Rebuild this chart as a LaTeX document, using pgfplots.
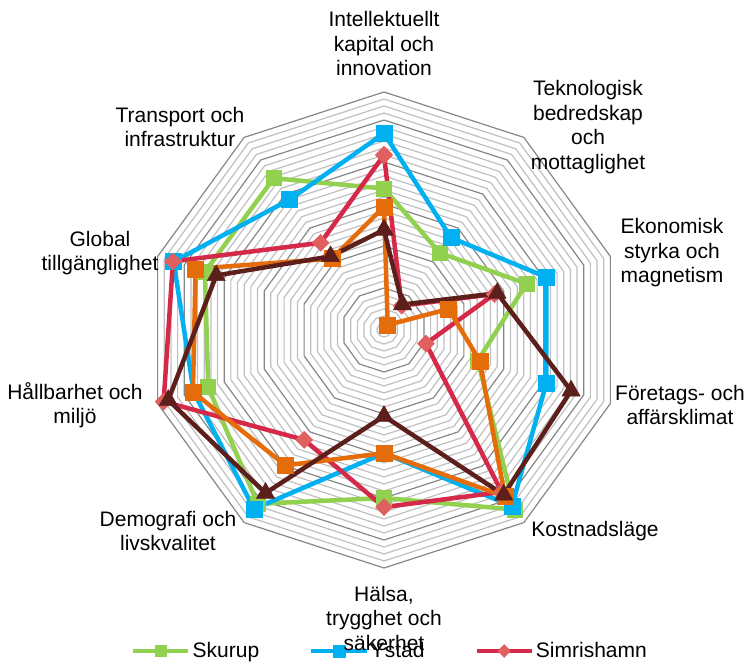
\documentclass[border=0pt]{standalone}
\usepackage{pgfplots}
\pgfplotsset{compat=1.18}
\usepgfplotslibrary{polar}
\usepackage{fontspec}
\setmainfont{Liberation Sans}
\definecolor{cSk}{HTML}{92D050}
\definecolor{cYs}{HTML}{00B0F0}
\definecolor{cSiL}{HTML}{D5294A}
\definecolor{cSiM}{HTML}{E0605F}
\definecolor{cOr}{HTML}{E46C0A}
\definecolor{cBr}{HTML}{5C1F1C}
\definecolor{gMin}{HTML}{BFBFBF}
\definecolor{gMaj}{HTML}{868686}
\newcommand\lbl{\fontsize{21bp}{24.5bp}\selectfont}
\begin{document}
\begin{tikzpicture}[x=1bp,y=1bp]
\useasboundingbox (0,0) rectangle (755,662);
\begin{polaraxis}[
  at={(384bp,332bp)}, anchor=center,
  scale only axis, width=476bp, height=476bp,
  hide axis, xmin=0, xmax=360, ymin=0, ymax=34,
  clip=false,
  legend style={draw=none, fill=none, legend columns=3,
    at={(-0.0315,-0.1744)}, anchor=west, inner sep=0pt,
    font=\lbl, nodes={inner sep=2bp},
    /tikz/every even column/.append style={column sep=48bp}},
  legend image code/.code={\draw[mark repeat=2,mark phase=2,#1,every mark/.append style={scale=0.75}] plot coordinates {(0bp,0bp) (27.5bp,0bp) (55bp,0bp)};},
]
% grid rings
\pgfplotsinvokeforeach{1,2,3,4,5,7,8,9,10,11,13,14,15,16,17,19,20,21,22,23,25,26,27,28,29,31,32,33}{
\addplot[gMin, line width=1.2bp, forget plot] coordinates {(90,#1) (54,#1) (18,#1) (342,#1) (306,#1) (270,#1) (234,#1) (198,#1) (162,#1) (126,#1) (90,#1)};
}
\pgfplotsinvokeforeach{6,12,18,24,30,34}{
\addplot[gMaj, line width=1.2bp, forget plot] coordinates {(90,#1) (54,#1) (18,#1) (342,#1) (306,#1) (270,#1) (234,#1) (198,#1) (162,#1) (126,#1) (90,#1)};
}
% Skurup
\addplot[cSk, line width=4.5bp, line join=round, mark=square*, mark size=7.5bp, mark options={solid, fill=cSk, draw=cSk, line width=0.5bp}]
coordinates {(90,20.2) (54,13.6) (18,21.4) (342,14.1) (306,31.7) (270,24.0) (234,30.7) (198,26.4) (162,26.9) (126,26.8) (90,20.2)};
\addlegendentry{Skurup}
% Ystad
\addplot[cYs, line width=4.5bp, line join=round, mark=square*, mark size=8bp, mark options={solid, fill=cYs, draw=cYs, line width=0.5bp}]
coordinates {(90,28.1) (54,16.3) (18,24.4) (342,24.4) (306,31.1) (270,17.6) (234,31.6) (198,28.6) (162,31.6) (126,23.0) (90,28.1)};
\addlegendentry{Ystad}
% Simrishamn
\addplot[cSiL, line width=4.5bp, line join=round, mark=diamond*, mark size=8.5bp, mark options={solid, fill=cSiM, draw=cSiM, line width=0.5bp, xscale=1.33}]
coordinates {(90,25.0) (54,4.3) (18,16.6) (342,6.3) (306,28.6) (270,25.3) (234,19.4) (198,33.1) (162,31.7) (126,15.4) (90,25.0)};
\addlegendentry{Simrishamn}
% orange series
\addplot[cOr, line width=4.5bp, line join=round, mark=square*, mark size=8bp, mark options={solid, fill=cOr, draw=cOr, line width=0.5bp}]
coordinates {(90,17.6) (54,0.9) (18,9.7) (342,14.4) (306,29.4) (270,17.6) (234,23.9) (198,28.7) (162,28.3) (126,12.6) (90,17.6)};
% brown series
\addplot[cBr, line width=4.5bp, line join=round, mark=triangle*, mark size=10.5bp, mark options={solid, fill=cBr, draw=cBr, line width=0.5bp}]
coordinates {(90,14.3) (54,4.5) (18,17.0) (342,28.1) (306,29.1) (270,12.3) (234,28.8) (198,32.4) (162,25.2) (126,13.0) (90,14.3)};
\end{polaraxis}
\begin{scope}[every node/.style={align=center, font=\lbl, text=black, inner sep=0pt}]
\node at (384,618) {Intellektuellt\\kapital och\\innovation};
\node at (588,535) {Teknologisk\\bedredskap\\och\\mottaglighet};
\node at (672,409) {Ekonomisk\\styrka och\\magnetism};
\node at (680,257) {Företags- och\\affärsklimat};
\node at (595,131) {Kostnadsläge};
\node at (384,44) {Hälsa,\\trygghet och\\säkerhet};
\node at (168,131) {Demografi och\\livskvalitet};
\node at (75,257) {Hållbarhet och\\miljö};
\node at (100,409) {Global\\tillgänglighet};
\node at (180,535) {Transport och\\infrastruktur};
\end{scope}
\end{tikzpicture}
\end{document}
